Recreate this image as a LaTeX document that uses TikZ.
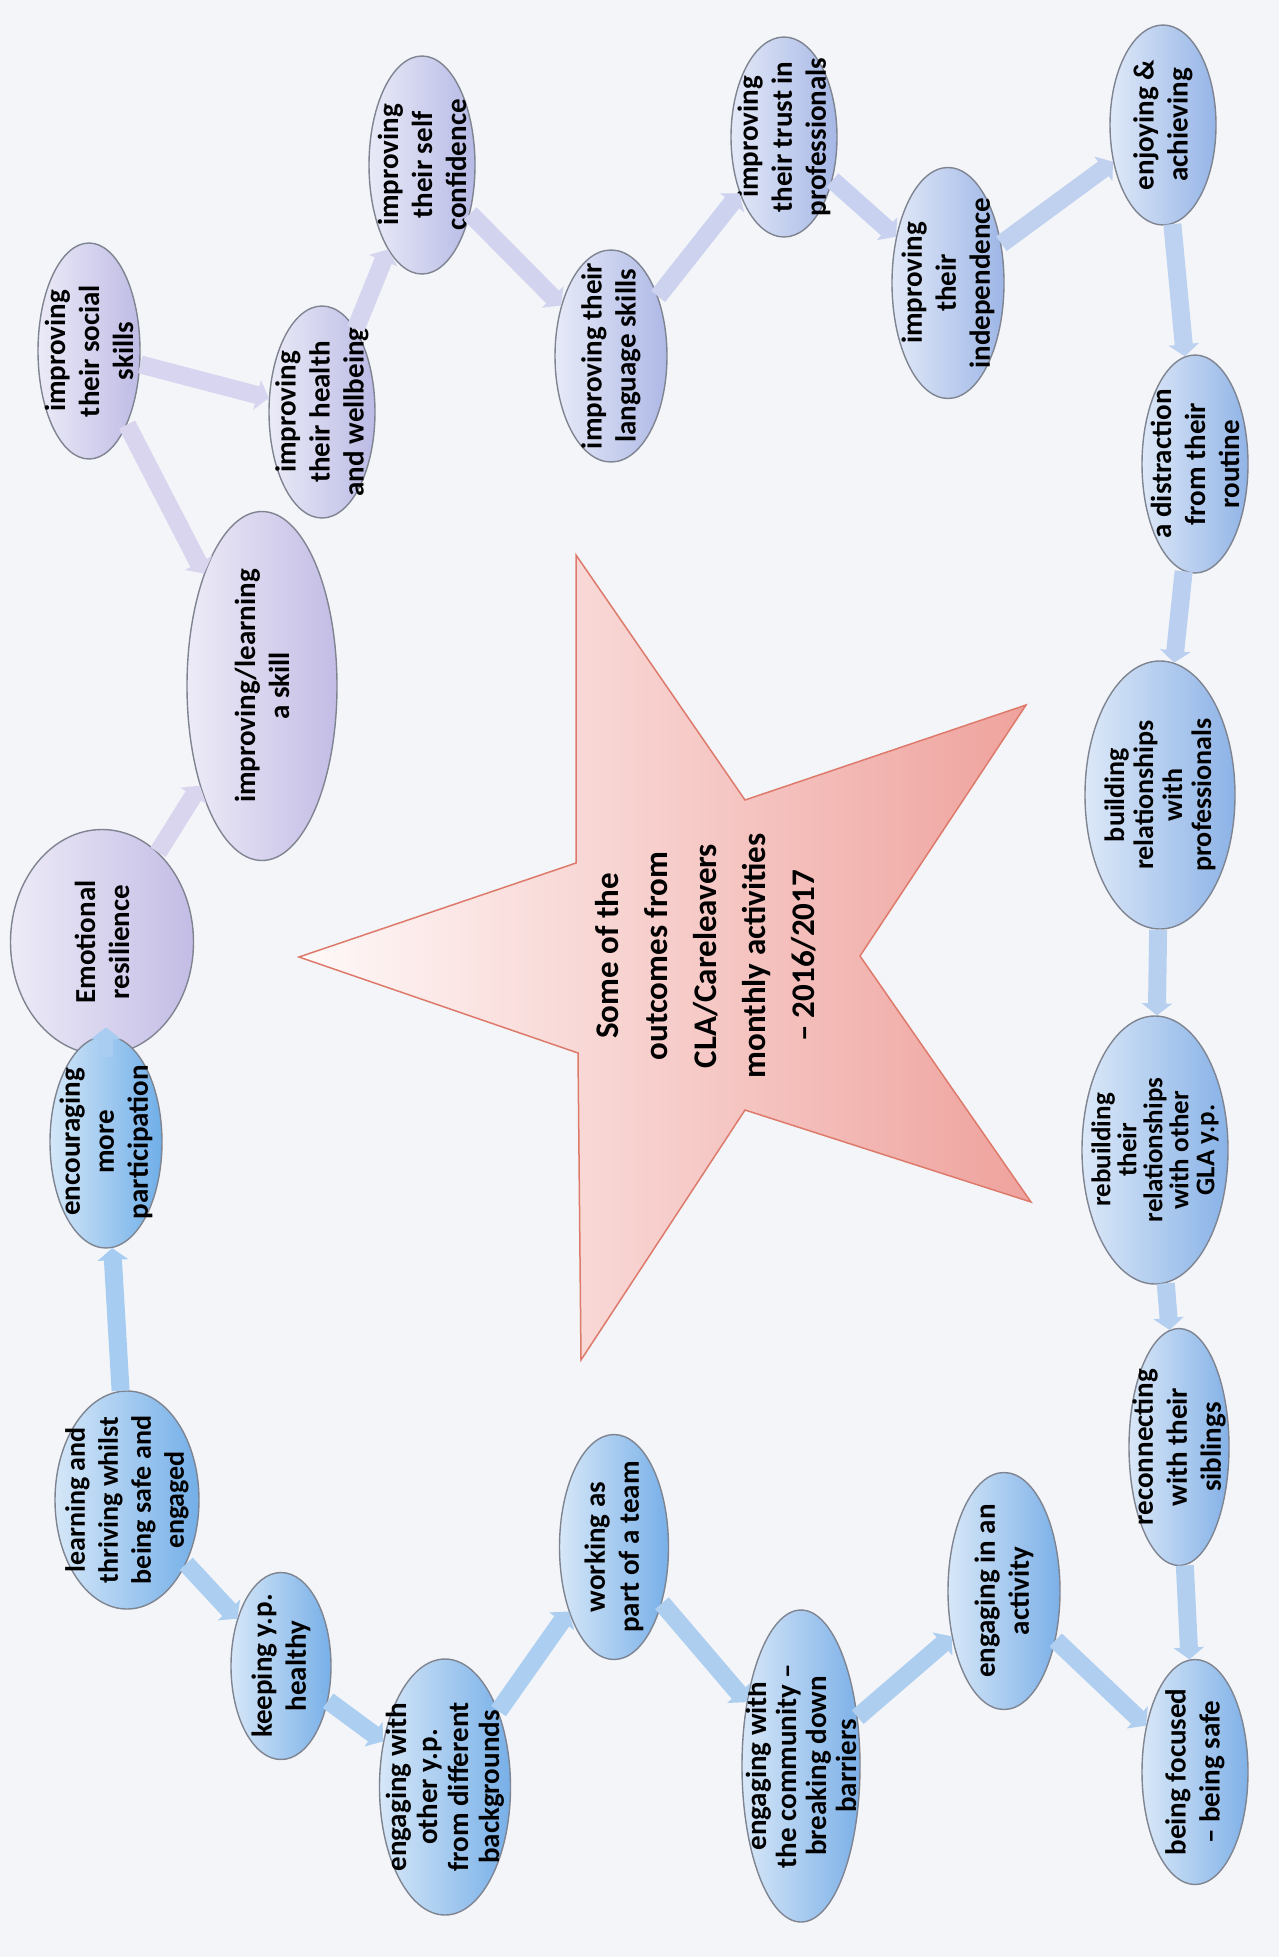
\documentclass[tikz,border=0pt]{standalone}
\usepackage{fontspec}
\setmainfont{Carlito}
\usetikzlibrary{shapes.geometric, arrows.meta}

\definecolor{paper}{HTML}{F3F5F9}
\definecolor{lav}{HTML}{C3BCE5}
\definecolor{blu}{HTML}{6FAEE8}
\definecolor{rim}{HTML}{7F8491}
\definecolor{starpink}{HTML}{EFA29D}
\definecolor{starline}{HTML}{DE7A6B}

\tikzstyle{outcome} = [ellipse, inner sep=0pt, draw=rim, line width=1.4pt]
\tikzstyle{words} = [rotate=90, align=center, inner sep=0pt, font=\bfseries\fontsize{29}{34}\selectfont]
\tikzstyle{heading} = [rotate=90, align=center, inner sep=0pt, font=\bfseries\fontsize{33}{49}\selectfont]
\tikzstyle{arrow} = [line width=18pt, -{Triangle[width=30pt,length=12pt]}]
\tikzset{tone/.style={left color=lav!#1!blu!30!white, right color=lav!#1!blu},
         pipe/.style={arrow, draw=lav!#1!blu!62!white},
         tight/.style 2 args={font=\bfseries\fontsize{#1}{#2}\selectfont}}

\begin{document}
\begin{tikzpicture}[x=1pt, y=-1pt]
\fill[paper] (0,0) rectangle (1279,1957);
\useasboundingbox (0,0) rectangle (1279,1957);

% star in the middle
\path[draw=starline, line width=1.5pt, left color=starpink!6!white, right color=starpink]
  (299,957) -- (576,863) -- (576,555) -- (745,800) -- (1026,705) -- (860,956)
  -- (1031,1202) -- (745,1110) -- (581,1360) -- (578,1053) -- cycle;
\node (title) [heading] at (706,956) {Some of the\\outcomes from\\CLA/Careleavers\\monthly activities\\– 2016/2017};

% outcomes
\node (skill) [outcome, tone=100, minimum width=150pt, minimum height=349pt] at (262,686) {};
\node (skill-t) [words] at (skill) {improving/learning\\a skill};
\node (social) [outcome, tone=95, minimum width=102pt, minimum height=216pt] at (89,351) {};
\node (social-t) [words] at (social) {improving\\their social\\skills};
\node (health) [outcome, tone=90, minimum width=106pt, minimum height=212pt] at (322,412) {};
\node (health-t) [words] at (health) {improving\\their health\\and wellbeing};
\node (selfconf) [outcome, tone=85, minimum width=106pt, minimum height=218pt] at (422,165) {};
\node (selfconf-t) [words] at (selfconf) {improving\\their self\\confidence};
\node (language) [outcome, tone=75, minimum width=112pt, minimum height=212pt] at (611,356) {};
\node (language-t) [words] at (language) {improving their\\language skills};
\node (trust) [outcome, tone=65, minimum width=106pt, minimum height=200pt] at (784,137) {};
\node (trust-t) [words] at (trust) {improving\\their trust in\\professionals};
\node (indep) [outcome, tone=55, minimum width=112pt, minimum height=231pt] at (948,283) {};
\node (indep-t) [words] at (indep) {improving\\their\\independence};
\node (enjoy) [outcome, tone=45, minimum width=106pt, minimum height=200pt] at (1163,125) {};
\node (enjoy-t) [words] at (enjoy) {enjoying \&\\achieving};
\node (distract) [outcome, tone=40, minimum width=106pt, minimum height=218pt] at (1195,464) {};
\node (distract-t) [words] at (distract) {a distraction\\from their\\routine};
\node (building) [outcome, tone=35, minimum width=150pt, minimum height=268pt] at (1160,795) {};
\node (building-t) [words, tight={28}{29}] at (building) {building\\relationships\\with\\professionals};
\node (rebuilding) [outcome, tone=30, minimum width=146pt, minimum height=268pt] at (1155,1150) {};
\node (rebuilding-t) [words, tight={27}{26}] at (rebuilding) {rebuilding\\their\\relationships\\with other\\GLA y.p.};
\node (reconnect) [outcome, tone=25, minimum width=100pt, minimum height=237pt] at (1179,1447) {};
\node (reconnect-t) [words] at (reconnect) {reconnecting\\with their\\siblings};
\node (focused) [outcome, tone=20, minimum width=106pt, minimum height=225pt] at (1195,1772) {};
\node (focused-t) [words] at (focused) {being focused\\– being safe};
\node (activity) [outcome, tone=15, minimum width=112pt, minimum height=237pt] at (1004,1591) {};
\node (activity-t) [words] at (activity) {engaging in an\\activity};
\node (community) [outcome, tone=15, minimum width=118pt, minimum height=312pt] at (801,1766) {};
\node (community-t) [words, tight={29}{30}] at (community) {engaging with\\the community –\\breaking down\\barriers};
\node (team) [outcome, tone=10, minimum width=109pt, minimum height=225pt] at (614,1547) {};
\node (team-t) [words] at (team) {working as\\part of a team};
\node (others) [outcome, tone=10, minimum width=131pt, minimum height=256pt] at (445,1787) {};
\node (others-t) [words, tight={29}{31}] at (others) {engaging with\\other y.p.\\from different\\backgrounds};
\node (healthy) [outcome, tone=10, minimum width=100pt, minimum height=187pt] at (281,1666) {};
\node (healthy-t) [words] at (healthy) {keeping y.p.\\healthy};
\node (learning) [outcome, tone=5, minimum width=144pt, minimum height=218pt] at (127,1500) {};
\node (learning-t) [words, tight={28}{33}] at (learning) {learning and\\thriving whilst\\being safe and\\engaged};
\node (resilience) [outcome, tone=100, minimum width=183pt, minimum height=225pt] at (102,942) {};
\node (resilience-t) [words] at (resilience) {Emotional\\resilience};
\node (encourage) [outcome, tone=0, minimum width=112pt, minimum height=212pt] at (106,1142) {};
\node (encourage-t) [words] at (encourage) {encouraging\\more\\participation};

% links
\draw [pipe=100] (social) -- (skill);
\draw [pipe=95] (social) -- (health);
\draw [pipe=90] (health) -- (selfconf);
\draw [pipe=85] (selfconf) -- (language);
\draw [pipe=75] (language) -- (trust);
\draw [pipe=65] (trust) -- (indep);
\draw [pipe=50] (indep) -- (enjoy);
\draw [pipe=45] (enjoy) -- (distract);
\draw [pipe=40] (distract) -- (building);
\draw [pipe=35] (building) -- (rebuilding);
\draw [pipe=30] (rebuilding) -- (reconnect);
\draw [pipe=25] (reconnect) -- (focused);
\draw [pipe=20] (activity) -- (focused);
\draw [pipe=15] (community) -- (activity);
\draw [pipe=15] (team) -- (community);
\draw [pipe=10] (others) -- (team);
\draw [pipe=10] (healthy) -- (others);
\draw [pipe=10] (learning) -- (healthy);
\draw [pipe=0] (learning) -- (encourage);
\draw [pipe=5, line width=14pt] ([yshift=-22pt]encourage.north) -- ([yshift=8pt]encourage.north);
\draw [pipe=100] (resilience) -- (skill);
\end{tikzpicture}
\end{document}
